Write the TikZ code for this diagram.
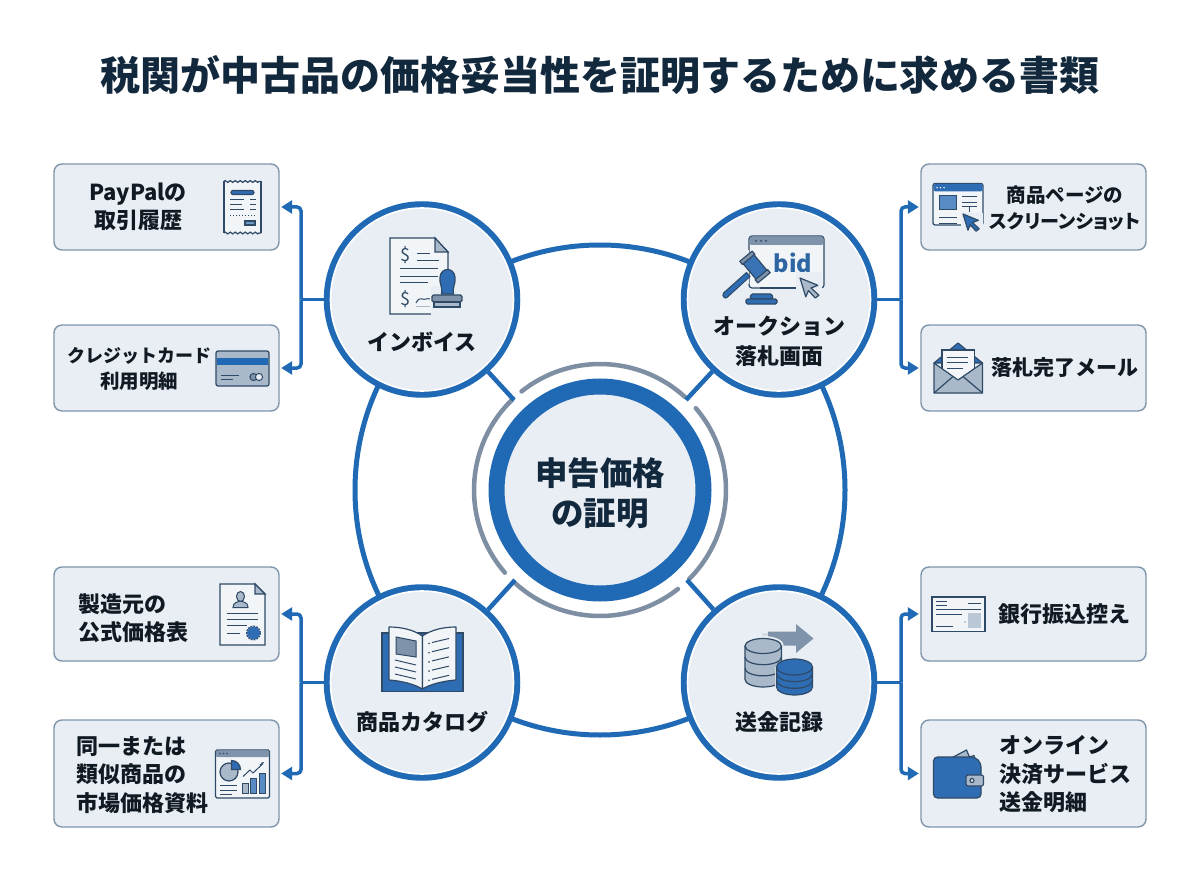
\documentclass[tikz,border=0pt]{standalone}
\usepackage{fontspec}
\setmainfont{Noto Sans CJK JP}
\newfontfamily\pf[RawFeature=+palt]{Noto Sans CJK JP}
\usetikzlibrary{arrows.meta,decorations.pathmorphing}
\definecolor{blu}{HTML}{1F69B5}
\definecolor{ink}{HTML}{111A22}
\definecolor{navy}{HTML}{12283C}
\definecolor{pale}{HTML}{E9EEF4}
\definecolor{edge}{HTML}{7F95AC}
\definecolor{gring}{HTML}{7E8FA3}
\definecolor{line}{HTML}{2F4A66}
\definecolor{mid}{HTML}{A9B9C9}
\definecolor{mid2}{HTML}{7F93AB}
\definecolor{icb}{HTML}{2E6DB4}
\newcommand\fz[2]{\fontsize{#1}{\baselineskip}\selectfont #2}
\newcommand\cyl[6]{%
 \draw[ic,fill=#5] (#1,#2) -- (#1,#3) arc[start angle=180,end angle=0,x radius=#4,y radius=#6] -- (#1+2*#4,#2);
 \foreach \k in {1,2}{\draw[ic] (#1,{#2+\k*(#3-#2)/3}) arc[start angle=180,end angle=0,x radius=#4,y radius=#6];}
 \draw[ic,fill=#5] (#1+#4,#2) ellipse[x radius=#4,y radius=#6];
}
\tikzset{
 sat/.style={circle,draw=blu,line width=6.5pt,fill=pale,minimum size=190pt,inner sep=0pt},
 hub/.style={circle,draw=blu,line width=16pt,fill=pale,minimum size=207pt,inner sep=0pt},
 card/.style={draw=edge,line width=1.4pt,fill=pale,rounded corners=8pt,inner sep=0pt},
 lb/.style={text=ink,align=center,inner sep=0pt,font=\bfseries\fontsize{22}{#1}\selectfont},
 lb/.default=28,
 ll/.style={text=ink,align=left,inner sep=0pt,font=\bfseries\fontsize{22}{#1}\selectfont},
 ll/.default=28.5,
 ring/.style={draw=blu,line width=5pt},
 spoke/.style={draw=blu,line width=4.5pt},
 garc/.style={draw=gring,line width=4.5pt,line cap=round},
 stub/.style={draw=blu,line width=3.5pt},
 conn/.style={draw=blu,line width=3.5pt,rounded corners=4pt,shorten >=1.5pt,-{Triangle[length=11pt,width=13pt]}},
 ic/.style={draw=line,line width=1.2pt},
 icl/.style={draw=line,line width=1pt},
}
\begin{document}
\begin{tikzpicture}[x=1pt,y=-1pt]
\useasboundingbox (0,0) rectangle (1200,896);
\fill[white] (0,0) rectangle (1200,896);
\node[text=navy,inner sep=0pt,font=\bfseries\fontsize{40}{48}\selectfont] (title) at (600,75) {税関が中古品の価格妥当性を証明するために求める書類};
\coordinate (c) at (600,490);
% big ring
\draw[ring] (c) circle (245);
% gray arcs
\draw[garc] ([shift={(-128.5:126)}]c) arc [start angle=-128.5,end angle=-47.6,radius=126];
\draw[garc] ([shift={(-40.5:126)}]c) arc [start angle=-40.5,end angle=45,radius=126];
\draw[garc] ([shift={(51.8:126)}]c) arc [start angle=51.8,end angle=132,radius=126];
\draw[garc] ([shift={(139:126)}]c) arc [start angle=139,end angle=226,radius=126];
% satellites, hub
\coordinate (s1) at (514,400);\coordinate (s2) at (686,400);\coordinate (s3) at (515,580);\coordinate (s4) at (687,580);
\node[hub] (hub) at (c) {};
\node[sat] (inv) at (422,299.5) {};
\node[sat] (auc) at (779,299.5) {};
\node[sat] (cat) at (422,682.5) {};
\node[sat] (rem) at (779,682.5) {};
\draw[spoke] (inv) -- (s1);
\draw[spoke] (auc) -- (s2);
\draw[spoke] (cat) -- (s3);
\draw[spoke] (rem) -- (s4);
\foreach \n in {inv,auc,cat,rem}{\draw[white,line width=1.6pt] (\n.center) circle (91.5);}
% boxes
\node[card,minimum width=225pt,minimum height=86pt] (b1) at (166.5,207) {};
\node[card,minimum width=225pt,minimum height=86pt] (b2) at (166.5,368) {};
\node[card,minimum width=225pt,minimum height=94pt] (b3) at (166.5,614) {};
\node[card,minimum width=225pt,minimum height=107pt] (b4) at (166.5,773.5) {};
\node[card,minimum width=225pt,minimum height=86pt] (b5) at (1033.5,207) {};
\node[card,minimum width=225pt,minimum height=86pt] (b6) at (1033.5,368) {};
\node[card,minimum width=225pt,minimum height=94pt] (b7) at (1033.5,614) {};
\node[card,minimum width=225pt,minimum height=107pt] (b8) at (1033.5,773.5) {};
% connectors
\coordinate (jl1) at (301,299.5);\coordinate (jr1) at (901,299.5);\coordinate (jl2) at (301,682.5);\coordinate (jr2) at (901,682.5);
\draw[stub] (inv.west) -- (jl1);
\draw[stub] (auc.east) -- (jr1);
\draw[stub] (cat.west) -- (jl2);
\draw[stub] (rem.east) -- (jr2);
\draw[conn] (jl1) |- (b1.east);
\draw[conn] (jl1) |- (b2.east);
\draw[conn] (jl2) |- (b3.east);
\draw[conn] (jl2) |- (b4.east);
\draw[conn] (jr1) |- (b5.west);
\draw[conn] (jr1) |- (b6.west);
\draw[conn] (jr2) |- (b7.west);
\draw[conn] (jr2) |- (b8.west);
% labels
\node[text=navy,align=center,inner sep=0pt,font=\bfseries\fontsize{32.5}{40}\selectfont] (hubt) at (600,493) {申告価格\\の証明};
\node[lb] (t1) at (422,341.5) {インボイス};
\node[lb=30] (t2) at (779,341.5) {オークション\\落札画面};
\node[lb] (t3) at (422,722) {商品カタログ};
\node[lb] (t4) at (779,722) {送金記録};
\node[lb] (l1) at (138,207) {PayPalの\\取引履歴};
\node[lb=26] (l2) at (139,369) {\fz{18}{クレジットカード}\\\fz{19.5}{利用明細}};
\node[ll,anchor=west] (l3) at (78,618) {製造元の\\公式価格表};
\node[ll,anchor=west] (l4) at (76,775) {同一または\\類似商品の\\市場価格資料};
\node[lb=26] (l5) at (1065,208) {\fz{19.5}{商品ページの}\\\fz{19}{\pf スクリーンショット}};
\node[lb] (l6) at (1064.5,368) {\fz{21}{落札完了メール}};
\node[lb] (l7) at (1064.5,614) {銀行振込控え};
\node[ll,anchor=west] (l8) at (999,774.5) {オンライン\\決済サービス\\送金明細};
% --- receipt
\fill[pale!60!white] (224,182) rectangle (261,233);
\draw[ic,decorate,decoration={zigzag,segment length=5pt,amplitude=0.9pt}] (224,181.5) -- (261,181.5);
\draw[ic,decorate,decoration={zigzag,segment length=5pt,amplitude=0.9pt}] (224,233) -- (261,233);
\draw[ic] (224,181) -- (224,233) (261,181) -- (261,233);
\draw[ic,fill=icb,rounded corners=2pt] (231,190.5) rectangle (254,194.5);
\draw[icl] (230,199.5) -- (244,199.5) (250,199.5) -- (256,199.5) (230,205) -- (242,205) (250,205) -- (256,205) (230,210) -- (244,210) (250,210) -- (256,210);
\draw[icl,dotted] (230,216) -- (256,216);
\draw[ic,fill=icb!70] (245,221) rectangle (255,225);
% --- credit card
\draw[ic,fill=mid,rounded corners=2pt] (216,351) rectangle (269,386);
\fill[blu] (216.6,357.5) rectangle (268.4,365);
\draw[icl] (221,375) -- (239,375) (221,379) -- (233,379);
\draw[icl,fill=mid2] (253.5,377) circle (3.6);
\draw[icl,fill=pale] (259,377) circle (3.6);
% --- invoice
\draw[ic,fill=pale!60!white] (435,238) -- (390,238) -- (390,314) -- (448,314) -- (448,252) -- cycle;
\draw[ic,fill=mid] (435,238) -- (435,252) -- (448,252) -- cycle;
\node[text=line,inner sep=0pt,font=\fontsize{18}{18}\selectfont] (d1) at (405,255) {\$};
\node[text=line,inner sep=0pt,font=\fontsize{18}{18}\selectfont] (d2) at (405,299) {\$};
\draw[icl] (417,254) -- (430,254) (417,260.5) -- (439,260.5) (400,269) -- (438,269) (400,276.5) -- (438,276.5) (400,283) -- (428,283);
\draw[icl] (416,303) .. controls (420,295) and (423,301) .. (426,299) .. controls (428,298) and (429,299) .. (430,299);
\draw[draw=mid,line width=1pt] (416,306) -- (430,306);
\fill[pale] (431,286) rectangle (450,318);
\draw[ic,fill=icb] (441.5,294) .. controls (443,287) and (439,284) .. (440,277) .. controls (441,267) and (454,267) .. (455,277) .. controls (456,284) and (452,287) .. (453.5,294) -- cycle;
\draw[ic,fill=mid2,rounded corners=1.5pt] (432,295) rectangle (462,302);
\draw[ic,fill=mid] (434,302) rectangle (460,307);
% --- auction
\draw[ic,fill=pale!60!white,rounded corners=3pt] (749,236) rectangle (824,288);
\fill[mid2,rounded corners=2pt] (749.6,236.6) rectangle (823.4,245);
\foreach \x in {756,761,766}{\fill[line] (\x,240.8) circle (1);}
\node[text=icb!80!line,inner sep=0pt,font=\bfseries\fontsize{23.5}{24}\selectfont] (bid) at (793,263) {bid};
\fill[pale] (741,250) rectangle (748.5,284);
\draw[ic,fill=icb,line width=1pt] (723.5,293) -- (746.5,272.5) -- (750,276.5) -- (727,297.5) .. controls (725,299.5) and (721.5,296) .. (723.5,293) -- cycle;
\draw[ic,fill=icb!85!mid2,line join=round] (752.1,252.5) -- (768.7,272.5) -- (757.9,281.5) -- (741.3,261.5) -- cycle;
\draw[ic,fill=mid2,line join=round] (767.6,269.6) -- (755.2,279.8) -- (757.8,282.9) -- (770.2,272.7) -- cycle;
\draw[ic,fill=mid2,line join=round] (754.8,254.2) -- (742.4,264.4) -- (739.8,261.3) -- (752.2,251.1) -- cycle;
\draw[ic,fill=icb,rounded corners=1.5pt] (751,294) -- (772,294) -- (773,299) -- (750,299) -- cycle;
\draw[ic,fill=icb,rounded corners=1.5pt] (746,304) -- (746,299) -- (777,299) -- (777,304) -- cycle;
\fill[pale] (796,272) rectangle (822,297);
\draw[ic] (796,288) -- (760,288);
\begin{scope}[shift={(800,278)},scale=1.05]
\draw[ic,fill=mid,line join=round] (0,0) -- (17,7) -- (10.5,9.5) -- (18,16.5) -- (14.5,19) -- (8,12) -- (5.5,18) -- cycle;
\end{scope}
% --- screen
\draw[ic,fill=pale!60!white,rounded corners=2pt] (933,183.5) rectangle (983,225);
\fill[icb,rounded corners=1.5pt] (933.5,184) rectangle (982.5,191.5);
\foreach \x in {937,940.5,944}{\fill[white] (\x,187.7) circle (.8);}
\draw[icl,fill=icb!80] (939,196) rectangle (956.5,210);
\draw[icl] (962,197) -- (977,197) (962,202.5) -- (977,202.5) (962,207) -- (977,207) (969,207) -- (969,212) (939,218) -- (956.5,218) (939,224) -- (956.5,224);
\fill[pale] (961,213) rectangle (983,234);
\begin{scope}[shift={(963,214)},scale=.9]
\draw[ic,fill=icb,line join=round] (0,0) -- (17,7) -- (10.5,9.5) -- (18,16.5) -- (14.5,19) -- (8,12) -- (5.5,18) -- cycle;
\end{scope}
% --- envelope
\draw[ic,fill=icb,line join=round] (934,363) -- (958,343) -- (982.5,363) -- cycle;
\draw[ic,fill=pale!50!white] (942,350) rectangle (974.5,384);
\draw[icl] (947,357) -- (968,357) (947,362.5) -- (968,362.5) (947,368) -- (963,368);
\draw[ic,fill=mid,line join=round] (934,363) -- (958,380) -- (982.5,363) -- (982.5,393) -- (934,393) -- cycle;
\draw[ic] (934,393) -- (953,376.5) (982.5,393) -- (963,376.5);
% --- certificate
\draw[ic,fill=pale!60!white] (255,584) -- (220,584) -- (220,645) -- (265,645) -- (265,594) -- cycle;
\draw[ic,fill=mid] (255,584) -- (255,594) -- (265,594) -- cycle;
\draw[icl,fill=mid] (233,607.5) .. controls (233,602) and (238,602) .. (240.5,601) .. controls (243,602) and (248,602) .. (248,607.5) -- cycle;
\draw[icl,fill=mid] (240.5,596.5) ellipse [x radius=4,y radius=5];
\draw[icl] (227,613) -- (258,613) (227,619) -- (258,619) (227,625) -- (247,625) (227,633) -- (240,633);
\draw[line,densely dotted,line width=1.8pt] (253.5,633) circle (6.6);
\fill[icb] (253.5,633) circle (6.3);
% --- chart
\draw[ic,fill=pale!60!white,rounded corners=1.5pt] (215.5,750) rectangle (269.5,798);
\fill[mid2,rounded corners=1pt] (216,750.5) rectangle (269,757);
\foreach \x in {220,223.5,227}{\fill[line] (\x,753.5) circle (.8);}
\draw[ic,fill=mid] (229,772) circle (9);
\draw[ic,fill=icb] (231.5,769.5) -- (231.5,760.5) arc[start angle=-90,end angle=0,radius=9] -- cycle;
\draw[icl] (220,785) -- (237,785) (220,790) -- (237,790) (220,794.5) -- (232,794.5);
\draw[icl] (243,776.5) -- (250,770) -- (253,773) -- (263,763.5);
\draw[icl,-{Stealth[length=3pt]}] (260,765) -- (264,762);
\draw[icl,fill=mid] (242.5,783) rectangle (248,793);
\draw[icl,fill=icb!80] (250.5,778) rectangle (256,793);
\draw[icl,fill=icb!80] (259.5,773) rectangle (265,793);
% --- book
\draw[ic,fill=icb] (382,633) rectangle (463,691.5);
\draw[ic,fill=pale!60!white,line join=round] (389,627) .. controls (402,627) and (414,630) .. (422.4,636) -- (422.4,689) .. controls (414,684) and (402,681) .. (389,680) -- cycle;
\draw[ic,fill=pale!60!white,line join=round] (456,627) .. controls (443,627) and (431,630) .. (422.4,636) -- (422.4,689) .. controls (431,684) and (443,681) .. (456,680) -- cycle;
\draw[icl,fill=mid2] (396,637) -- (416,641) -- (416,657) -- (396,654) -- cycle;
\draw[icl] (395,660) -- (416,665) (395,667) -- (416,672) (395,674) -- (416,679);
\foreach \i in {0,...,4}{\draw[icl] (432,{642.5+\i*9.2}) -- (449,{638.5+\i*9.2});\fill[line] (429,{643.5+\i*9.2}) circle (.9);}
% --- remit
\fill[mid!50] (762,632.5) rectangle (770,637);
\fill[mid2] (768,631.7) -- (796,631.7) -- (796,624) -- (813.5,638.5) -- (796,653) -- (796,645.5) -- (768,645.5) -- cycle;
\draw[pale,line width=4pt] (744,646) arc[start angle=180,end angle=0,x radius=19,y radius=-8];
\cyl{745}{646}{679.5}{18.2}{mid}{7.5}
\draw[pale,line width=2.5pt] (776.5,667) -- (776.5,688);
\cyl{776.5}{667}{687}{18}{icb}{8}
% --- bank slip
\draw[ic,fill=pale!60!white] (932,597) rectangle (985,631.5);
\draw[icl] (936,601) -- (947,601) (936,605) -- (947,605) (968,603) -- (981,603) (936,609.5) -- (981,609.5) (936,614) -- (962,614) (936,626) -- (953,626);
\fill[mid!80] (968,613) rectangle (981,628);
\fill[line] (965,622) circle (.7);
% --- wallet
\draw[ic,fill=mid,line join=round] (942,763) -- (966.5,750) -- (972,763) -- cycle;
\draw[ic,fill=pale,line join=round] (952,763) -- (974,755.5) -- (976,763) -- cycle;
\draw[ic,fill=icb,rounded corners=4pt] (933.5,757) -- (947,757) -- (975,757) -- (981,763) -- (981,798) -- (933.5,798) -- cycle;
\draw[ic,fill=mid,rounded corners=2pt] (966,775) rectangle (983.5,786);
\draw[ic,fill=pale] (972,780.5) circle (2);
\end{tikzpicture}
\end{document}
